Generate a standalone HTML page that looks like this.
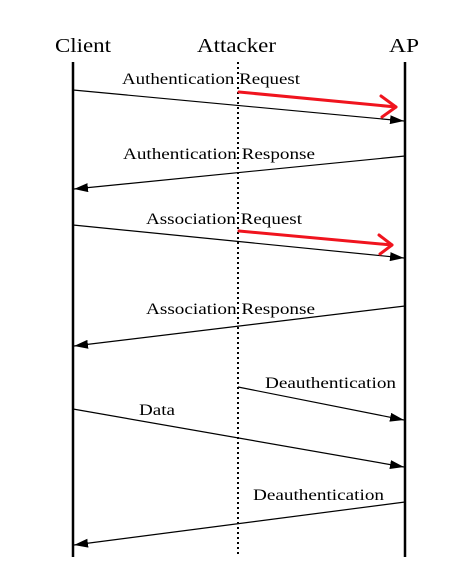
<!DOCTYPE html>
<html><head><style>
html,body{margin:0;padding:0;background:#fff;width:471px;height:583px;overflow:hidden}
text{font-family:"Liberation Serif",serif;fill:#000}
</style></head><body>
<svg width="471" height="583" viewBox="0 0 471 583" xmlns="http://www.w3.org/2000/svg">
<defs>
<marker id="a" markerWidth="14" markerHeight="9" refX="14" refY="4.5" orient="auto" markerUnits="userSpaceOnUse">
<path d="M0,0 L14,4.5 L0,9 Z" fill="#000"/></marker>
</defs>
<g font-size="20">
<text x="55" y="52" textLength="56" lengthAdjust="spacingAndGlyphs">Client</text>
<text x="197" y="52" textLength="79" lengthAdjust="spacingAndGlyphs">Attacker</text>
<text x="389" y="52" textLength="30" lengthAdjust="spacingAndGlyphs">AP</text>
</g>
<line x1="73" y1="62" x2="73" y2="557" stroke="#000" stroke-width="2.5"/>
<line x1="405" y1="62" x2="405" y2="557" stroke="#000" stroke-width="2.5"/>
<line x1="238" y1="62" x2="238" y2="557" stroke="#000" stroke-width="2" stroke-dasharray="2,3"/>
<g stroke="#000" stroke-width="1.2" fill="none" marker-end="url(#a)">
<line x1="73" y1="90" x2="404" y2="121"/>
<line x1="405" y1="156" x2="74" y2="189"/>
<line x1="73" y1="225" x2="404" y2="258"/>
<line x1="405" y1="306" x2="74" y2="346"/>
<line x1="238" y1="387" x2="404" y2="420"/>
<line x1="73" y1="409" x2="404" y2="467"/>
<line x1="405" y1="502" x2="74" y2="545"/>
</g>
<g stroke="#f0141e" stroke-width="3" fill="none" stroke-linecap="round" stroke-linejoin="round">
<line x1="239" y1="92" x2="396" y2="107"/><path d="M381,96 L396,107 L382,117"/>
<line x1="239" y1="231" x2="392" y2="245"/><path d="M379,235 L392,245 L380,254"/>
</g>
<g font-size="16" lengthAdjust="spacingAndGlyphs">
<text x="122" y="84" textLength="178" lengthAdjust="spacingAndGlyphs">Authentication Request</text>
<text x="123" y="159" textLength="192" lengthAdjust="spacingAndGlyphs">Authentication Response</text>
<text x="146" y="224" textLength="156" lengthAdjust="spacingAndGlyphs">Association Request</text>
<text x="146" y="314" textLength="169" lengthAdjust="spacingAndGlyphs">Association Response</text>
<text x="265" y="388" textLength="131" lengthAdjust="spacingAndGlyphs">Deauthentication</text>
<text x="139" y="415" textLength="36" lengthAdjust="spacingAndGlyphs">Data</text>
<text x="253" y="500" textLength="131" lengthAdjust="spacingAndGlyphs">Deauthentication</text>
</g>
</svg>
</body></html>
